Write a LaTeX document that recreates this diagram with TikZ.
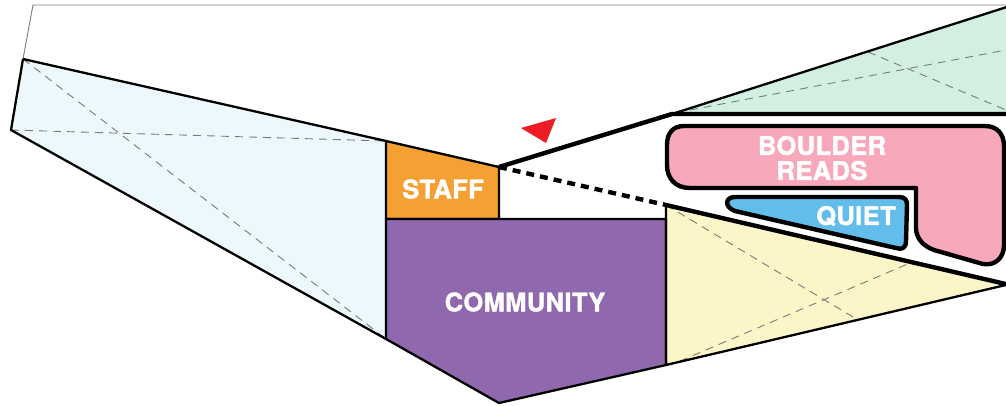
\documentclass[tikz,border=0pt]{standalone}
\usepackage{fontspec}
\setmainfont{TeX Gyre Heros}[BoldFeatures={FakeBold=1.6,LetterSpace=1.5}]
\definecolor{paleblue}{HTML}{EDF8FC}
\definecolor{staffor}{HTML}{F5A033}
\definecolor{commpur}{HTML}{9068AE}
\definecolor{paleyel}{HTML}{FBF5C8}
\definecolor{palegrn}{HTML}{D2EFE2}
\definecolor{readpink}{HTML}{F7A8BB}
\definecolor{quietblue}{HTML}{63BDEB}
\definecolor{markred}{HTML}{EE1C25}
\definecolor{hair}{HTML}{7A7A7A}
\tikzset{
  wall/.style={draw=black,line width=2.3pt,line join=round},
  heavy/.style={draw=black,line width=4.4pt,line join=round},
  guide/.style={draw=hair,line width=0.9pt,dash pattern=on 8pt off 6pt},
  roomlabel/.style={text=white,font=\bfseries\fontsize{25.5}{25}\selectfont,align=center,inner sep=0pt},
}
\begin{document}
\begin{tikzpicture}[x=1pt,y=-1pt]
\useasboundingbox (0,0) rectangle (1006,405);
\clip (0,0) rectangle (1006,405);
\fill[white] (0,0) rectangle (1006,405);
% outline at top
\draw[hair,line width=0.9pt] (23,59) -- (33,5) -- (1006,5);
% fills
\fill[paleblue] (23,59) -- (386,141) -- (386,339) -- (11,130) -- cycle;
\fill[palegrn] (672,114) -- (1010,6) -- (1010,114) -- cycle;
\fill[paleyel] (666,205) -- (1006,284) -- (666,365) -- cycle;
% guides
\draw[guide] (23,59) -- (386,339);
\draw[guide] (11,130) -- (386,141);
\draw[guide] (868,52) -- (1006,110);
\draw[guide] (690,110) -- (1006,50);
\draw[guide] (666,205) -- (858,320);
\draw[guide] (680,361) -- (910,263);
% rooms
\draw[wall,fill=staffor] (386,141) -- (499,167) -- (499,219) -- (386,219) -- cycle;
\draw[wall,fill=commpur] (386,219) -- (666,219) -- (666,365) -- (499,403) -- (386,339) -- cycle;
\draw[wall] (23,59) -- (386,141) (386,339) -- (11,130) -- (23,59);
\draw[wall] (666,205) -- (666,365) -- (1010,284);
\draw[wall] (672,114) -- (1010,6);
% heavy walls
\draw[heavy] (499,167) -- (672,114) -- (1010,114);
\draw[heavy] (666,205) -- (1010,285);
\draw[line width=4.4pt,dash pattern=on 8pt off 6pt] (499,167) -- (666,205);
% pink room
\draw[heavy,fill=readpink] (684,126) -- (985,126) .. controls (997,126) and (1004,134) .. (1004,146)
  -- (1004,245) .. controls (1004,258) and (995,266) .. (983,264)
  -- (934,250) .. controls (923,246) and (916,238) .. (916,228)
  -- (916,188) -- (690,188) .. controls (675,188) and (667,178) .. (667,165)
  -- (667,145) .. controls (667,133) and (673,126) .. (684,126) -- cycle;
% quiet room
\draw[heavy,fill=quietblue] (735,197) -- (899,197) .. controls (905,197) and (907,200) .. (907,205)
  -- (906,241) .. controls (906,248) and (902,250) .. (896,248)
  -- (735,211) .. controls (724,207) and (725,197) .. (735,197) -- cycle;
% marker
\fill[markred] (521,128) -- (556,118) -- (546,143) -- cycle;
% labels
\node[roomlabel] (staff) at (443,189) {STAFF};
\node[roomlabel] (community) at (525,302) {COMMUNITY};
\node[roomlabel] (boulder) at (822,158) {BOULDER\\READS};
\node[roomlabel] (quiet) at (856,216) {QUIET};
\end{tikzpicture}
\end{document}
